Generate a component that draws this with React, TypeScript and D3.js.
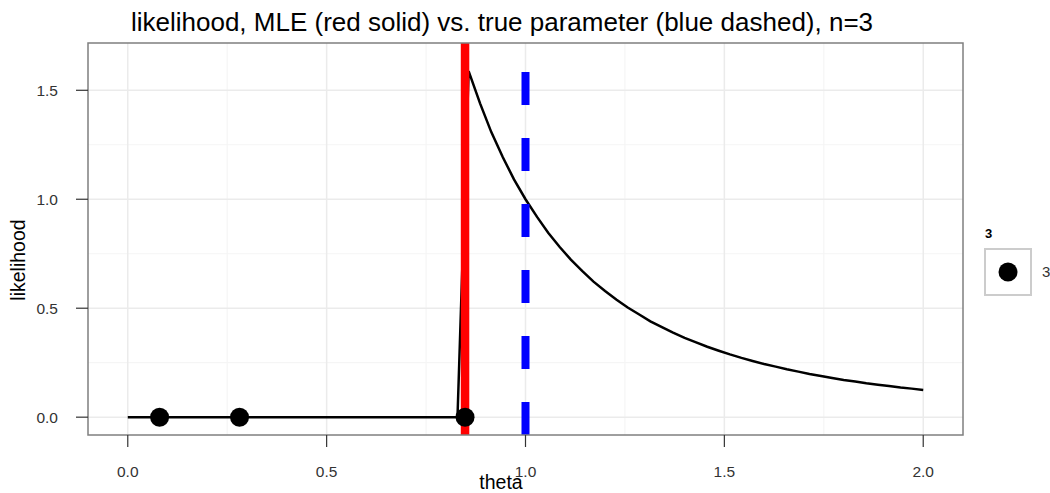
import { useEffect, useRef } from "react";
import * as d3 from "d3";

// likelihood curve (theta grid, likelihood)
const thetaGrid = [
  0, 0.829, 0.857, 0.886, 0.914, 0.943, 0.971, 1.0, 1.029, 1.057, 1.086, 1.114,
  1.143, 1.171, 1.2, 1.229, 1.257, 1.286, 1.314, 1.343, 1.371, 1.4, 1.429,
  1.457, 1.486, 1.514, 1.543, 1.571, 1.6, 1.629, 1.657, 1.686, 1.714, 1.743,
  1.771, 1.8, 1.829, 1.857, 1.886, 1.914, 1.943, 1.971, 2.0,
];
const likelihood = [
  0, 0, 1.588, 1.439, 1.308, 1.193, 1.091, 1.0, 0.919, 0.846, 0.781, 0.723,
  0.67, 0.622, 0.579, 0.539, 0.503, 0.471, 0.44, 0.413, 0.388, 0.364, 0.343,
  0.323, 0.305, 0.288, 0.272, 0.258, 0.244, 0.232, 0.22, 0.209, 0.198, 0.189,
  0.18, 0.171, 0.164, 0.156, 0.149, 0.143, 0.136, 0.131, 0.125,
];
// observed sample (n = 3)
const samples = [0.08, 0.281, 0.848];
const mle = 0.848;
const trueTheta = 1.0;

const xTicks = [0, 0.5, 1.0, 1.5, 2.0];
const yTicks = [0, 0.5, 1.0, 1.5];
const xMinor = [0.25, 0.75, 1.25, 1.75];
const yMinor = [0.25, 0.75, 1.25];

const App = () => {
  const svgRef = useRef<SVGSVGElement>(null);

  useEffect(() => {
    const width = 1050;
    const height = 493;
    const panel = { left: 88, right: 963, top: 43, bottom: 435 };
    const font = "'Liberation Sans', Arial, sans-serif";

    const svg = d3.select(svgRef.current);
    svg.selectAll("*").remove();
    svg.attr("width", width).attr("height", height);

    const x = d3.scaleLinear().domain([-0.1, 2.1]).range([panel.left, panel.right]);
    const y = d3.scaleLinear().domain([-0.0818, 1.717]).range([panel.bottom, panel.top]);

    svg.append("rect").attr("width", width).attr("height", height).attr("fill", "white");

    const clipId = "panel-clip";
    svg
      .append("clipPath")
      .attr("id", clipId)
      .append("rect")
      .attr("x", panel.left)
      .attr("y", panel.top)
      .attr("width", panel.right - panel.left)
      .attr("height", panel.bottom - panel.top);

    const g = svg.append("g").attr("clip-path", `url(#${clipId})`);

    // grid lines
    g.selectAll(".xminor")
      .data(xMinor)
      .enter()
      .append("line")
      .attr("x1", (d) => x(d))
      .attr("x2", (d) => x(d))
      .attr("y1", panel.top)
      .attr("y2", panel.bottom)
      .attr("stroke", "#f5f5f5")
      .attr("stroke-width", 1.2);
    g.selectAll(".yminor")
      .data(yMinor)
      .enter()
      .append("line")
      .attr("x1", panel.left)
      .attr("x2", panel.right)
      .attr("y1", (d) => y(d))
      .attr("y2", (d) => y(d))
      .attr("stroke", "#f5f5f5")
      .attr("stroke-width", 1.2);
    g.selectAll(".xmajor")
      .data(xTicks)
      .enter()
      .append("line")
      .attr("x1", (d) => x(d))
      .attr("x2", (d) => x(d))
      .attr("y1", panel.top)
      .attr("y2", panel.bottom)
      .attr("stroke", "#ebebeb")
      .attr("stroke-width", 1.5);
    g.selectAll(".ymajor")
      .data(yTicks)
      .enter()
      .append("line")
      .attr("x1", panel.left)
      .attr("x2", panel.right)
      .attr("y1", (d) => y(d))
      .attr("y2", (d) => y(d))
      .attr("stroke", "#ebebeb")
      .attr("stroke-width", 1.5);

    // likelihood curve
    const line = d3
      .line<number>()
      .x((d) => x(d))
      .y((_, i) => y(likelihood[i]));
    g.append("path")
      .datum(thetaGrid)
      .attr("fill", "none")
      .attr("stroke", "black")
      .attr("stroke-width", 2.5)
      .attr("d", line);

    // MLE (red solid)
    g.append("line")
      .attr("x1", x(mle))
      .attr("x2", x(mle))
      .attr("y1", panel.bottom)
      .attr("y2", panel.top)
      .attr("stroke", "#ff0000")
      .attr("stroke-width", 8.5);

    // true parameter (blue dashed)
    g.append("line")
      .attr("x1", x(trueTheta))
      .attr("x2", x(trueTheta))
      .attr("y1", panel.bottom)
      .attr("y2", panel.top)
      .attr("stroke", "#0000ff")
      .attr("stroke-width", 8)
      .attr("stroke-dasharray", "33,33");

    // sample points
    g.selectAll(".dot")
      .data(samples)
      .enter()
      .append("circle")
      .attr("cx", (d) => x(d))
      .attr("cy", y(0))
      .attr("r", 9.5)
      .attr("fill", "black");

    // panel border
    svg
      .append("rect")
      .attr("x", panel.left)
      .attr("y", panel.top)
      .attr("width", panel.right - panel.left)
      .attr("height", panel.bottom - panel.top)
      .attr("fill", "none")
      .attr("stroke", "#7f7f7f")
      .attr("stroke-width", 1.5);

    // axes
    svg
      .selectAll(".xtick")
      .data(xTicks)
      .enter()
      .append("line")
      .attr("x1", (d) => x(d))
      .attr("x2", (d) => x(d))
      .attr("y1", panel.bottom)
      .attr("y2", panel.bottom + 12)
      .attr("stroke", "#333")
      .attr("stroke-width", 1.2);
    svg
      .selectAll(".xlab")
      .data(xTicks)
      .enter()
      .append("text")
      .attr("x", (d) => x(d))
      .attr("y", 477)
      .attr("text-anchor", "middle")
      .style("font-family", font)
      .style("font-size", "15.5px")
      .style("fill", "#333")
      .text((d) => d3.format(".1f")(d));

    svg
      .selectAll(".ytick")
      .data(yTicks)
      .enter()
      .append("line")
      .attr("x1", panel.left - 12)
      .attr("x2", panel.left)
      .attr("y1", (d) => y(d))
      .attr("y2", (d) => y(d))
      .attr("stroke", "#333")
      .attr("stroke-width", 1.2);
    svg
      .selectAll(".ylab")
      .data(yTicks)
      .enter()
      .append("text")
      .attr("x", 58)
      .attr("y", (d) => y(d) + 5.6)
      .attr("text-anchor", "end")
      .style("font-family", font)
      .style("font-size", "15.5px")
      .style("fill", "#333")
      .text((d) => d3.format(".1f")(d));

    // titles
    svg
      .append("text")
      .attr("x", 502)
      .attr("y", 31)
      .attr("text-anchor", "middle")
      .style("font-family", font)
      .style("font-size", "26px")
      .style("fill", "black")
      .text("likelihood, MLE (red solid) vs. true parameter (blue dashed), n=3");
    svg
      .append("text")
      .attr("x", 501)
      .attr("y", 489)
      .attr("text-anchor", "middle")
      .style("font-family", font)
      .style("font-size", "19.5px")
      .style("fill", "black")
      .text("theta");
    svg
      .append("text")
      .attr("transform", "translate(25,260) rotate(-90)")
      .attr("text-anchor", "middle")
      .style("font-family", font)
      .style("font-size", "19.5px")
      .style("fill", "black")
      .text("likelihood");

    // legend
    svg
      .append("text")
      .attr("x", 985)
      .attr("y", 238)
      .style("font-family", font)
      .style("font-size", "13px")
      .style("font-weight", "bold")
      .text("3");
    svg
      .append("rect")
      .attr("x", 985)
      .attr("y", 249)
      .attr("width", 46)
      .attr("height", 46)
      .attr("fill", "white")
      .attr("stroke", "#cccccc")
      .attr("stroke-width", 2);
    svg
      .append("circle")
      .attr("cx", 1008)
      .attr("cy", 272)
      .attr("r", 9.5)
      .attr("fill", "black");
    svg
      .append("text")
      .attr("x", 1042)
      .attr("y", 277)
      .style("font-family", font)
      .style("font-size", "15px")
      .style("fill", "#333")
      .text("3");
  }, []);

  return (
    <div style={{ position: "absolute", left: 0, top: 0 }}>
      <svg ref={svgRef}></svg>
    </div>
  );
};

export default App;
